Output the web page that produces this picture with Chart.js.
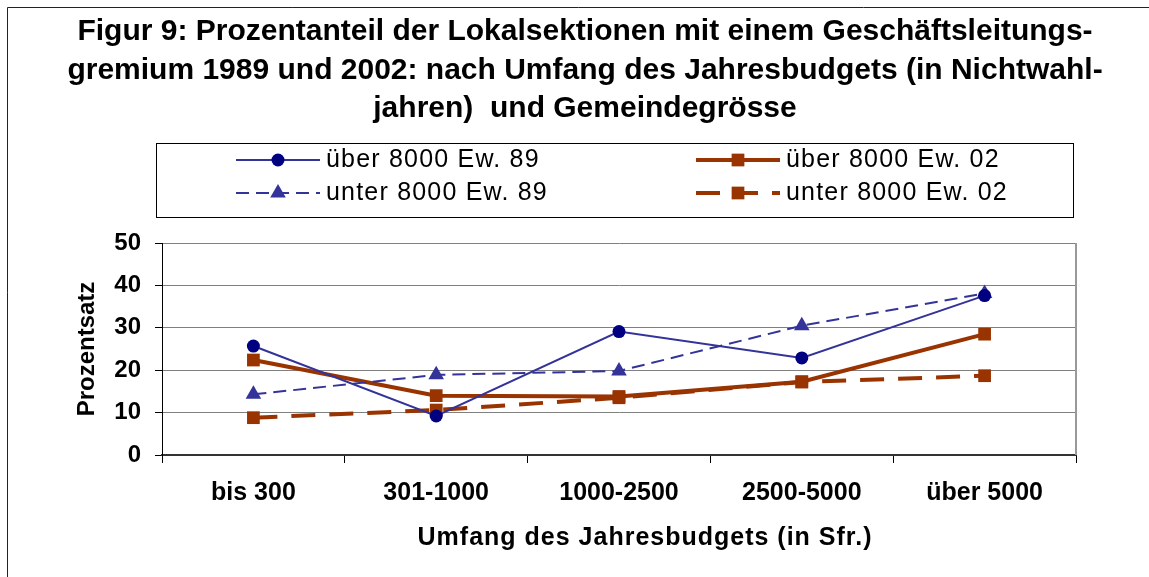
<!DOCTYPE html>
<html>
<head>
<meta charset="utf-8">
<script src="https://cdn.jsdelivr.net/npm/chart.js@4/dist/chart.umd.min.js"></script>
<style>
  body { margin: 0; background: #fff; }
</style>
</head>
<body>
<canvas id="chart" width="1149" height="577"></canvas>
<script>
const budget_labels = ['bis 300', '301-1000', '1000-2500', '2500-5000', 'über 5000'];
const ueber_89 = [25.7, 9.2, 29.1, 22.9, 37.6];
const unter_89 = [14.3, 18.9, 19.8, 30.5, 38.1];
const ueber_02 = [22.4, 14.0, 13.8, 17.3, 28.5];
const unter_02 = [8.8, 10.6, 13.5, 17.2, 18.7];
const y_ticks = [0, 10, 20, 30, 40, 50];

const title_lines = [
    'Figur 9: Prozentanteil der Lokalsektionen mit einem Geschäftsleitungs-',
    'gremium 1989 und 2002: nach Umfang des Jahresbudgets (in Nichtwahl-',
    'jahren)  und Gemeindegrösse'
];
const x_title = 'Umfang des Jahresbudgets (in Sfr.)';

const FONT = '"Liberation Sans", Arial, sans-serif';
const BLUE = '#333399';
const NAVY = '#000080';
const BROWN = '#993300';

function draw_marker(ctx, style, r, x, y, color) {
    ctx.save();
    ctx.fillStyle = color;
    ctx.beginPath();
    if (style === 'circle') {
        ctx.arc(x, y, r, 0, Math.PI * 2);
    } else if (style === 'triangle') {
        ctx.moveTo(x, y - r);
        ctx.lineTo(x + r * 0.866, y + r * 0.5);
        ctx.lineTo(x - r * 0.866, y + r * 0.5);
        ctx.closePath();
    } else {
        const s = r * Math.SQRT1_2;
        ctx.rect(x - s, y - s, 2 * s, 2 * s);
    }
    ctx.fill();
    ctx.restore();
}

// title, legend box, frame and right plot border
const decorations = {
    id: 'decorations',
    beforeDatasetsDraw(chart) {
        const ctx = chart.ctx;
        const a = chart.chartArea;
        ctx.save();
        ctx.strokeStyle = '#999';
        ctx.lineWidth = 2;
        ctx.beginPath();
        ctx.moveTo(a.right, a.top);
        ctx.lineTo(a.right, a.bottom);
        ctx.stroke();
        ctx.restore();
    },
    afterDraw(chart) {
        const ctx = chart.ctx;
        ctx.save();

        // outer frame
        ctx.strokeStyle = '#222';
        ctx.lineWidth = 1;
        ctx.beginPath();
        ctx.moveTo(7.5, 577);
        ctx.lineTo(7.5, 7.5);
        ctx.lineTo(1149, 7.5);
        ctx.stroke();

        // title
        ctx.fillStyle = '#000';
        ctx.font = 'bold 30px ' + FONT;
        ctx.textAlign = 'center';
        ctx.textBaseline = 'middle';
        const ty = [32, 71, 109];
        title_lines.forEach((t, i) => ctx.fillText(t, 585, ty[i]));

        // x axis title
        ctx.font = 'bold 25px ' + FONT;
        ctx.letterSpacing = '1px';
        ctx.fillText(x_title, 645, 538);
        ctx.letterSpacing = '0px';

        // legend
        ctx.strokeStyle = '#000';
        ctx.lineWidth = 1;
        ctx.strokeRect(156.5, 143.5, 917, 74);
        const slots = [[236, 160], [236, 193], [696, 160], [696, 193]];
        ctx.font = '25px ' + FONT;
        ctx.textAlign = 'left';
        ctx.letterSpacing = '1.2px';
        chart.data.datasets.forEach((ds, k) => {
            const [x0, y0] = slots[k];
            ctx.save();
            ctx.strokeStyle = ds.borderColor;
            ctx.lineWidth = ds.borderWidth;
            ctx.setLineDash(ds.borderDash || []);
            ctx.beginPath();
            ctx.moveTo(x0, y0);
            ctx.lineTo(x0 + 84, y0);
            ctx.stroke();
            ctx.restore();
            draw_marker(ctx, ds.pointStyle, ds.pointRadius, x0 + 42, y0, ds.pointBackgroundColor);
            ctx.fillStyle = '#000';
            ctx.fillText(ds.label, x0 + 90, y0);
        });
        ctx.restore();
    }
};

new Chart(document.getElementById('chart'), {
    type: 'line',
    plugins: [decorations],
    data: {
        labels: budget_labels,
        datasets: [{
                label: 'über 8000 Ew. 89',
                data: ueber_89,
                borderColor: BLUE,
                borderWidth: 2,
                pointStyle: 'circle',
                pointRadius: 6.5,
                pointBackgroundColor: NAVY,
                pointBorderWidth: 0
            },
            {
                label: 'unter 8000 Ew. 89',
                data: unter_89,
                borderColor: BLUE,
                borderWidth: 2,
                borderDash: [13, 7],
                pointStyle: 'triangle',
                pointRadius: 9,
                pointBackgroundColor: BLUE,
                pointBorderWidth: 0
            },
            {
                label: 'über 8000 Ew. 02',
                data: ueber_02,
                borderColor: BROWN,
                borderWidth: 4,
                pointStyle: 'rect',
                pointRadius: 9,
                pointBackgroundColor: BROWN,
                pointBorderWidth: 0
            },
            {
                label: 'unter 8000 Ew. 02',
                data: unter_02,
                borderColor: BROWN,
                borderWidth: 4,
                borderDash: [24, 14],
                pointStyle: 'rect',
                pointRadius: 9,
                pointBackgroundColor: BROWN,
                pointBorderWidth: 0
            }
        ]
    },
    options: {
        responsive: false,
        animation: false,
        layout: {
            padding: { left: 70, top: 243, right: 73, bottom: 20 }
        },
        plugins: {
            legend: { display: false },
            title: { display: false },
            tooltip: { enabled: false }
        },
        elements: {
            line: { tension: 0 }
        },
        scales: {
            x: {
                offset: true,
                afterFit(scale) { scale.height = 102; },
                grid: {
                    offset: true,
                    drawOnChartArea: false,
                    tickLength: 8,
                    tickColor: '#000'
                },
                border: { color: '#333', width: 2 },
                ticks: {
                    color: '#000',
                    padding: 15,
                    font: { family: FONT, size: 25, weight: 'bold' }
                }
            },
            y: {
                min: 0,
                max: 50,
                afterFit(scale) { scale.width = 92; },
                afterBuildTicks(scale) {
                    scale.ticks = y_ticks.map(v => ({ value: v }));
                },
                grid: {
                    color: '#808080',
                    tickLength: 7,
                    tickColor: '#000'
                },
                border: { color: '#000', width: 1 },
                ticks: {
                    color: '#000',
                    padding: 14,
                    font: { family: FONT, size: 24, weight: 'bold' }
                },
                title: {
                    display: true,
                    text: 'Prozentsatz',
                    color: '#000',
                    padding: { top: 3, bottom: 0 },
                    font: { family: FONT, size: 24, weight: 'bold' }
                }
            }
        }
    }
});
</script>
</body>
</html>
